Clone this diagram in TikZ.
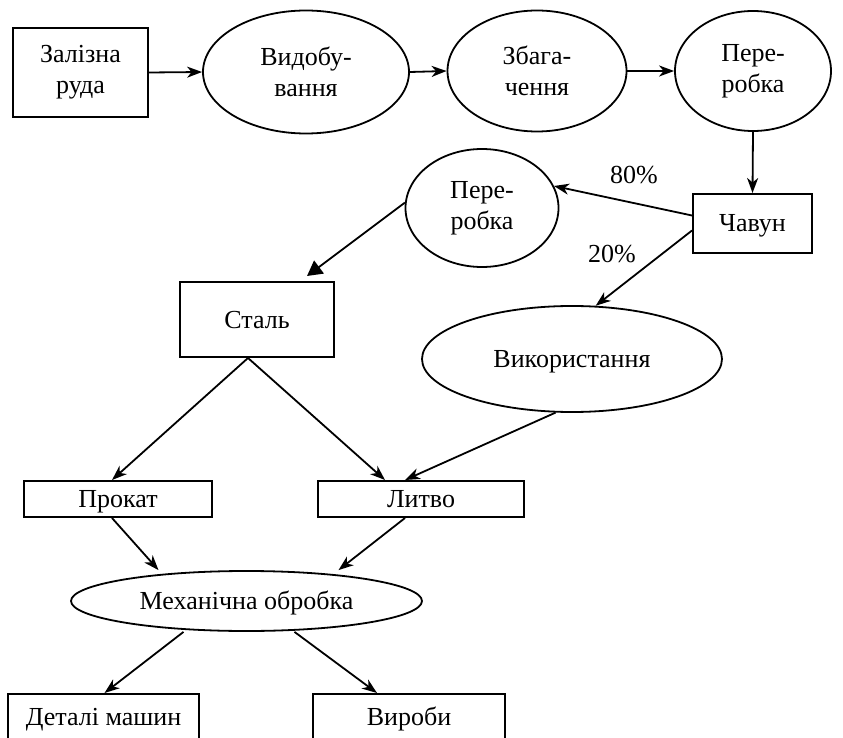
\documentclass[tikz,border=0pt]{standalone}
\usepackage{fontspec}
\setmainfont{Liberation Serif}
\usetikzlibrary{shapes.geometric, arrows.meta}

\begin{document}
\begin{tikzpicture}[x=1pt, y=-1pt,
    font=\fontsize{26}{31}\selectfont,
    every node/.style={inner sep=0pt, align=center},
    box/.style={draw, line width=2pt, rectangle},
    oval/.style={draw, line width=1.8pt, ellipse},
    oneline/.style={text height=17pt, text depth=0pt},
    flow/.style={line width=1.8pt, -{Stealth[length=15pt, width=11pt, inset=4.5pt]}},
    bigflow/.style={line width=1.8pt, -{Triangle[length=15pt, width=16pt]}}]

    \useasboundingbox (0,0) rectangle (843,738);
    \clip (0,0) rectangle (843,738);

    \node[box, minimum width=135pt, minimum height=89pt] (ruda) at (80.5,72.5) {Залізна\\руда};
    \node[oval, minimum width=206pt, minimum height=123pt] (vydob) at (306,72) {Видобу-\\вання};
    \node[oval, minimum width=179pt, minimum height=121pt] (zbag) at (537,71) {Збага-\\чення};
    \node[oval, minimum width=156pt, minimum height=120pt] (pererob) at (753,71) {Пере-\\робка};
    \node[box, oneline, minimum width=119pt, minimum height=59pt] (chavun) at (752.5,223.5) {Чавун};
    \node[oval, minimum width=153pt, minimum height=118pt] (pererobst) at (482,208) {Пере-\\робка};
    \node[box, oneline, minimum width=154pt, minimum height=75pt] (stal) at (257,319.5) {Сталь};
    \node[oval, oneline, minimum width=300pt, minimum height=106pt] (vykor) at (572,359) {Використання};
    \node[box, oneline, minimum width=188pt, minimum height=36pt] (prokat) at (118,499) {Прокат};
    \node[box, oneline, minimum width=206pt, minimum height=36pt] (lytvo) at (421,499) {Литво};
    \node[oval, oneline, minimum width=351pt, minimum height=60pt] (mekh) at (246.5,601) {Механічна обробка};
    \node[box, oneline, minimum width=191pt, minimum height=46pt] (detali) at (103.5,717) {Деталі машин};
    \node[box, oneline, minimum width=192pt, minimum height=46pt] (vyroby) at (409,717) {Вироби};

    \node[oneline] (pct80) at (634,175) {80\%};
    \node[oneline] (pct20) at (612,254) {20\%};

    \draw[flow] (ruda.east) -- (vydob.west);
    \draw[flow] (vydob.east) -- (zbag.west);
    \draw[flow] (zbag.east) -- (pererob.west);
    \draw[flow] (pererob.south) -- (chavun.north);
    \draw[flow] ([yshift=8pt]chavun.west) -- (pererobst.17);
    \draw[flow] ([yshift=-7pt]chavun.west) -- (vykor.66);
    \draw[bigflow] (pererobst.176) -- ([xshift=50pt, yshift=5pt]stal.north);
    \draw[flow] ([xshift=-9pt]stal.south) -- ([xshift=-6pt]prokat.north);
    \draw[flow] ([xshift=-9pt]stal.south) -- ([xshift=-36pt]lytvo.north);
    \draw[flow] (vykor.-107) -- ([xshift=-16pt]lytvo.north);
    \draw[flow] ([xshift=-6pt]prokat.south) -- ([xshift=-88pt]mekh.north);
    \draw[flow] ([xshift=-16pt]lytvo.south) -- ([xshift=92pt]mekh.north);
    \draw[flow] ([xshift=-63pt]mekh.south) -- ([xshift=1pt]detali.north);
    \draw[flow] ([xshift=48pt]mekh.south) -- ([xshift=-32pt]vyroby.north);
\end{tikzpicture}
\end{document}
